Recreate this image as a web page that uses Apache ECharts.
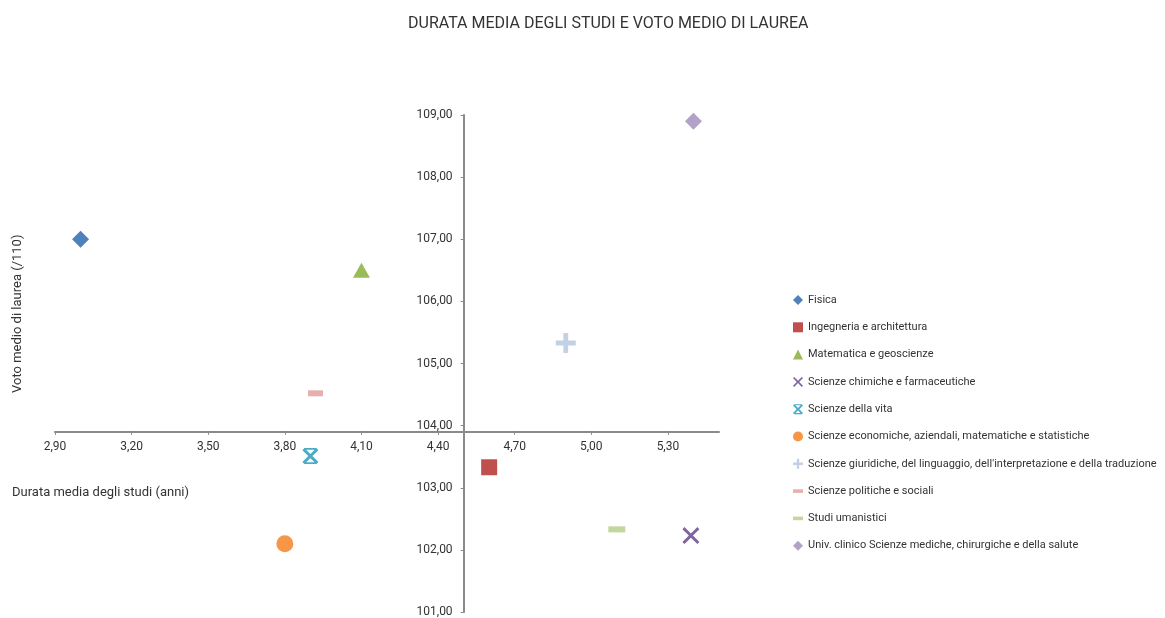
<!DOCTYPE html>
<html>
<head>
<meta charset="utf-8">
<script src="https://cdn.jsdelivr.net/npm/echarts@6/dist/echarts.min.js"></script>
<style>
  html, body { margin: 0; padding: 0; background: #fff; }
  .main { width: 1165px; height: 618px; }
</style>
</head>
<body>
<div class="main"></div>
<script>
var facolta = [
  'Fisica',
  'Ingegneria e architettura',
  'Matematica e geoscienze',
  'Scienze chimiche e farmaceutiche',
  'Scienze della vita',
  'Scienze economiche, aziendali, matematiche e statistiche',
  "Scienze giuridiche, del linguaggio, dell'interpretazione e della traduzione",
  'Scienze politiche e sociali',
  'Studi umanistici',
  'Univ. clinico Scienze mediche, chirurgiche e della salute'
];
// durata media degli studi (anni)
var durata = [3.00, 4.60, 4.10, 5.39, 3.90, 3.80, 4.90, 3.92, 5.10, 5.40];
// voto medio di laurea (/110)
var voto = [107.00, 103.33, 106.50, 102.23, 103.51, 102.10, 105.33, 104.52, 102.33, 108.90];

var colori = ['#4f81bd', '#c0504d', '#9bbb59', '#8064a2', '#4bacc6', '#f79646', '#c3d1e6', '#e6b0b0', '#c3d69b', '#b3a2c7'];

var X_PATH = 'path://M0,1.2L1.2,0L5,3.8L8.8,0L10,1.2L6.2,5L10,8.8L8.8,10L5,6.2L1.2,10L0,8.8L3.8,5Z';
var STAR_PATH = 'path://M1,0H9V1.1H1ZM0,1.3L1.3,0L5,3.7L8.7,0L10,1.3L6.3,5L10,8.7L8.7,10L5,6.3L1.3,10L0,8.7L3.7,5ZM1,8.9H9V10H1Z';
var PLUS_PATH = 'path://M3.8,0H6.2V3.8H10V6.2H6.2V10H3.8V6.2H0V3.8H3.8Z';
var DASH_PATH = 'path://M0,0H10V3.6H0Z';

var simboli = ['diamond', 'rect', 'triangle', X_PATH, STAR_PATH, 'circle', PLUS_PATH, DASH_PATH, DASH_PATH, 'diamond'];
var dimensioni = [17, 16, [17, 15], 17, 16, 17, 20, [15, 6], [17, 6], 17];

var xMin = 2.9, xMax = 5.5, yMin = 101, yMax = 109;
var xCross = 4.5, yCross = 103.9;

var gridLeft = 55, gridRight = 446, gridTop = 115, gridBottom = 6;
var gridW = 1165 - gridLeft - gridRight;
var gridH = 618 - gridTop - gridBottom;

var font = 'Roboto, "Liberation Sans", sans-serif';

function fmt(v) {
  return v.toFixed(2).replace('.', ',');
}

var series = [];
for (var i = 0; i < facolta.length; i++) {
  series.push({
    name: facolta[i],
    type: 'scatter',
    symbol: simboli[i],
    symbolSize: dimensioni[i],
    symbolKeepAspect: false,
    itemStyle: { color: colori[i], opacity: 1 },
    data: [[durata[i], voto[i]]]
  });
}

var myChart = echarts.init(document.querySelector('.main'));

var option = {
  animation: false,
  textStyle: { fontFamily: font },
  title: {
    text: 'DURATA MEDIA DEGLI STUDI E VOTO MEDIO DI LAUREA',
    left: 403,
    top: 11,
    textStyle: { fontFamily: font, fontSize: 16, fontWeight: 'normal', color: '#333' }
  },
  legend: {
    orient: 'vertical',
    left: 788,
    top: 288,
    itemWidth: 10,
    itemHeight: 10,
    itemGap: 13.3,
    symbolKeepAspect: true,
    textStyle: { fontFamily: font, fontSize: 11, lineHeight: 14, color: '#333' },
    data: facolta
  },
  grid: {
    left: gridLeft,
    right: gridRight,
    top: gridTop,
    bottom: gridBottom,
    containLabel: false,
    outerBoundsMode: 'none'
  },
  xAxis: {
    type: 'value',
    min: xMin,
    max: xMax,
    interval: 0.3,
    offset: -(yCross - yMin) / (yMax - yMin) * gridH,
    axisLine: { onZero: false, lineStyle: { color: '#8a8a8a', width: 2 } },
    axisTick: { show: true, length: 3, lineStyle: { color: '#8a8a8a' } },
    splitLine: { show: false },
    axisLabel: {
      showMaxLabel: false,
      margin: 9,
      color: '#333',
      fontFamily: font,
      fontSize: 12,
      formatter: fmt
    }
  },
  yAxis: {
    type: 'value',
    min: yMin,
    max: yMax,
    interval: 1,
    offset: -(xCross - xMin) / (xMax - xMin) * gridW,
    axisLine: { show: true, onZero: false, lineStyle: { color: '#8a8a8a', width: 2 } },
    axisTick: { show: true, length: 3, lineStyle: { color: '#8a8a8a' } },
    splitLine: { show: false },
    axisLabel: {
      margin: 11,
      color: '#333',
      fontFamily: font,
      fontSize: 12,
      formatter: fmt
    }
  },
  graphic: [
    {
      type: 'text',
      left: 12,
      top: 486,
      style: { text: 'Durata media degli studi (anni)', fill: '#333', font: '13px ' + font }
    },
    {
      type: 'text',
      x: 11,
      y: 393,
      rotation: Math.PI / 2,
      style: { text: 'Voto medio di laurea (/110)', fill: '#333', font: '13px ' + font }
    }
  ],
  series: series
};

myChart.setOption(option);
</script>
</body>
</html>
